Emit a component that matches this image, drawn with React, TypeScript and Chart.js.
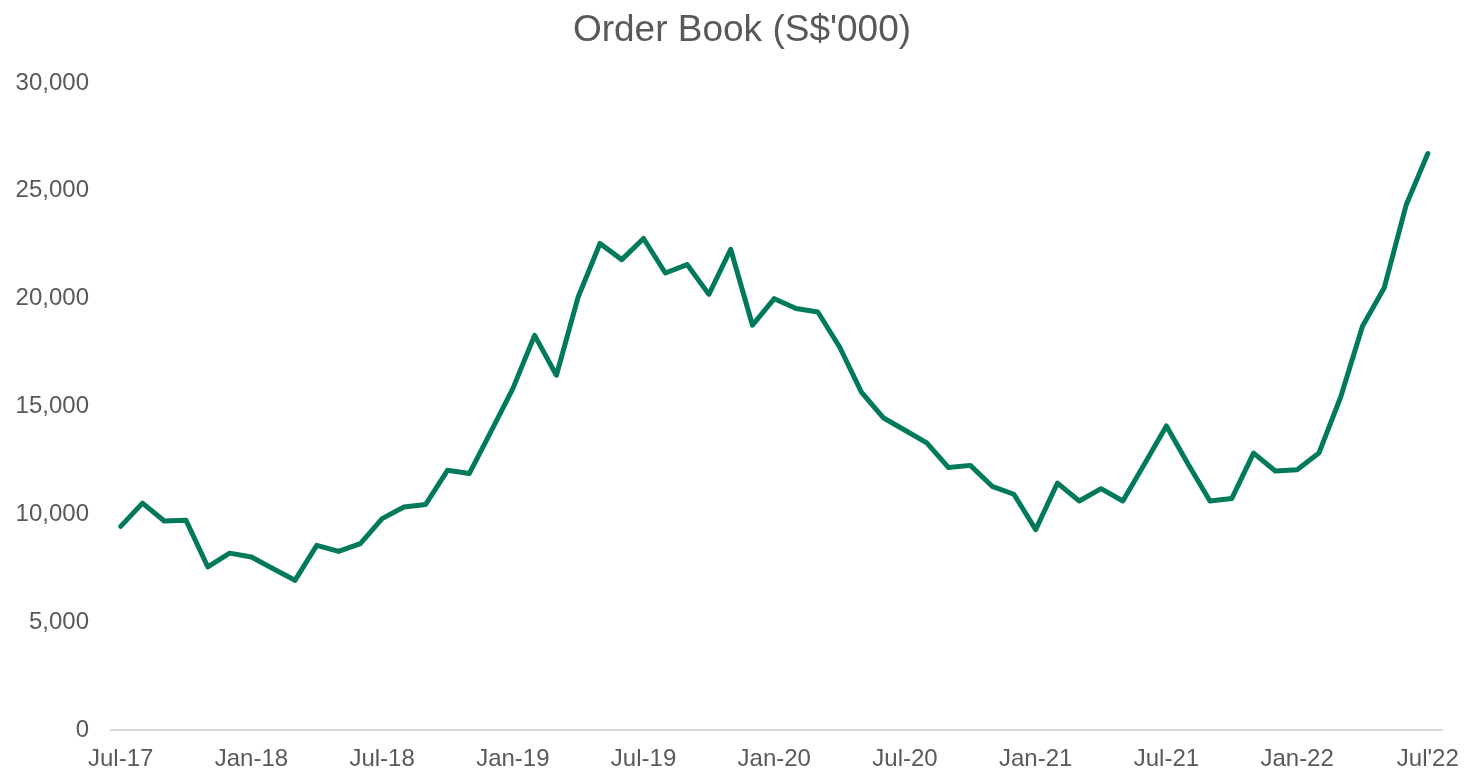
import React, { useEffect, useRef } from "react";
import { Chart, registerables } from "chart.js";

Chart.register(...registerables);

const chartTitle = "Order Book (S$'000)";

const months: string[] = [
  "Jul-17", "Aug-17", "Sep-17", "Oct-17", "Nov-17", "Dec-17",
  "Jan-18", "Feb-18", "Mar-18", "Apr-18", "May-18", "Jun-18",
  "Jul-18", "Aug-18", "Sep-18", "Oct-18", "Nov-18", "Dec-18",
  "Jan-19", "Feb-19", "Mar-19", "Apr-19", "May-19", "Jun-19",
  "Jul-19", "Aug-19", "Sep-19", "Oct-19", "Nov-19", "Dec-19",
  "Jan-20", "Feb-20", "Mar-20", "Apr-20", "May-20", "Jun-20",
  "Jul-20", "Aug-20", "Sep-20", "Oct-20", "Nov-20", "Dec-20",
  "Jan-21", "Feb-21", "Mar-21", "Apr-21", "May-21", "Jun-21",
  "Jul-21", "Aug-21", "Sep-21", "Oct-21", "Nov-21", "Dec-21",
  "Jan-22", "Feb-22", "Mar-22", "Apr-22", "May-22", "Jun-22",
  "Jul-22",
];

const orderBook: number[] = [
  9440, 10520, 9690, 9720, 7560, 8200,
  8020, 7480, 6940, 8560, 8280, 8640,
  9800, 10340, 10460, 12040, 11890, 13850,
  15830, 18300, 16450, 20080, 22560, 21810,
  22790, 21190, 21580, 20200, 22290, 18770,
  20000, 19540, 19380, 17760, 15670, 14480,
  13900, 13310, 12170, 12270, 11300, 10930,
  9290, 11450, 10620, 11190, 10620, 12350,
  14100, 12320, 10620, 10730, 12840, 12010,
  12070, 12840, 15440, 18720, 20510, 24330,
  26730,
];

const xTickLabels: string[] = [
  "Jul-17", "Jan-18", "Jul-18", "Jan-19", "Jul-19", "Jan-20",
  "Jul-20", "Jan-21", "Jul-21", "Jan-22", "Jul'22",
];

// month index at which each tick label sits
const xTickValues: number[] = [0, 6, 12, 18, 24, 30, 36, 42, 48, 54, 60];

const yTicks: number[] = [0, 5000, 10000, 15000, 20000, 25000, 30000];

const FONT = "'Liberation Sans', Arial, sans-serif";

const titleShift = {
  id: "titleShift",
  afterLayout(chart: any) {
    const t = chart.titleBlock;
    if (t) {
      t.left += 21;
      t.right += 21;
    }
  },
};

export default function App() {
  const canvasRef = useRef<HTMLCanvasElement | null>(null);

  useEffect(() => {
    if (!canvasRef.current) return;
    const points = orderBook.map((v, i) => ({ x: i, y: v }));
    const chart = new Chart(canvasRef.current, {
      type: "line",
      data: {
        labels: months,
        datasets: [
          {
            label: chartTitle,
            data: points,
            borderColor: "#007A5A",
            borderWidth: 5,
            borderJoinStyle: "round",
            borderCapStyle: "round",
            pointRadius: 0,
            fill: false,
            tension: 0,
          },
        ],
      },
      plugins: [titleShift],
      options: {
        animation: false,
        responsive: false,
        maintainAspectRatio: false,
        layout: { padding: { left: 0, right: 24, top: 0, bottom: 0 } },
        plugins: {
          legend: { display: false },
          tooltip: { enabled: false },
          title: {
            display: true,
            text: chartTitle,
            color: "#595959",
            font: { family: FONT, size: 37, weight: "normal" },
            padding: { top: 9, bottom: 29.6 },
          },
        },
        scales: {
          x: {
            type: "linear",
            min: -0.445,
            max: 60.65,
            grid: { display: false, drawTicks: false },
            border: { display: true, color: "#D9D9D9", width: 2 },
            afterBuildTicks: (scale: any) => {
              scale.ticks = xTickValues.map((v) => ({ value: v }));
            },
            afterFit: (scale: any) => {
              scale.height = 42;
              scale.paddingLeft = 0;
              scale.paddingRight = 0;
            },
            ticks: {
              autoSkip: false,
              maxRotation: 0,
              minRotation: 0,
              padding: 15,
              color: "#595959",
              font: { family: FONT, size: 24 },
              callback: (value: any) => {
                const idx = xTickValues.indexOf(Number(value));
                return idx >= 0 ? xTickLabels[idx] : "";
              },
            },
          },
          y: {
            type: "linear",
            min: 0,
            max: 30000,
            grid: { display: false, drawTicks: false },
            border: { display: false },
            afterBuildTicks: (scale: any) => {
              scale.ticks = yTicks.map((v) => ({ value: v }));
            },
            afterFit: (scale: any) => {
              scale.width = 111;
              scale.paddingTop = 0;
              scale.paddingBottom = 0;
            },
            ticks: {
              padding: 22,
              color: "#595959",
              font: { family: FONT, size: 24 },
              callback: (value: any) => Number(value).toLocaleString("en-US"),
            },
          },
        },
      },
    });
    return () => chart.destroy();
  }, []);

  return (
    <div style={{ position: "fixed", left: 0, top: 0, width: 1466, height: 772, background: "#fff" }}>
      <canvas ref={canvasRef} width={1466} height={772} style={{ width: 1466, height: 772 }} />
    </div>
  );
}
